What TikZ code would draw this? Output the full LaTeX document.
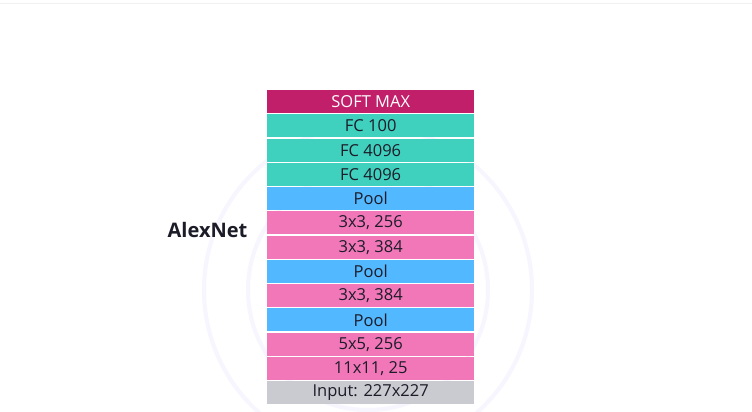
\documentclass[tikz,border=0pt]{standalone}
\usepackage{fontspec}
\setmainfont{Open Sans}
\definecolor{softc}{HTML}{C21F6B}
\definecolor{fcc}{HTML}{3FD0BE}
\definecolor{poolc}{HTML}{52B8FF}
\definecolor{convc}{HTML}{F277B9}
\definecolor{inc}{HTML}{C9CBD0}
\definecolor{ringc}{HTML}{F7F5FE}
\definecolor{txtc}{HTML}{1C1C28}
\begin{document}
\begin{tikzpicture}[x=1pt,y=-1pt,
  layer/.style={minimum width=207pt,minimum height=23pt,inner sep=0pt,anchor=north west,
    font=\fontsize{16.5}{18}\selectfont,text=txtc},
  soft/.style={layer,fill=softc,text=white},
  fc/.style={layer,fill=fcc},
  pool/.style={layer,fill=poolc},
  conv/.style={layer,fill=convc},
  inp/.style={layer,fill=inc}]
\useasboundingbox (0,0) rectangle (752,412);
\fill[white] (0,0) rectangle (752,412);
\draw[color=ringc,line width=4pt] (368,290) circle (164);
\draw[color=ringc,line width=4pt] (368,290) circle (120);
\draw[color=black!6,line width=1.5pt] (0,3.5) -- (752,3.5);
\node[soft] (s) at (267,90) {SOFT MAX};
\node[fc] (f1) at (267,114.25) {FC 100};
\node[fc] (f2) at (267,138.5) {FC 4096};
\node[fc] (f3) at (267,162.75) {FC 4096};
\node[pool] (p1) at (267,187) {Pool};
\node[conv] (c1) at (267,211.25) {3x3, 256};
\node[conv] (c2) at (267,235.5) {3x3, 384};
\node[pool] (p2) at (267,259.75) {Pool};
\node[conv] (c3) at (267,284) {3x3, 384};
\node[pool] (p3) at (267,308.25) {Pool};
\node[conv] (c4) at (267,332.5) {5x5, 256};
\node[conv] (c5) at (267,356.75) {11x11, 25};
\node[inp] (in) at (267,381) {Input: 227x227};
\node[font=\fontsize{20}{24}\selectfont\bfseries,text=txtc] (title) at (207.5,230) {AlexNet};
\end{tikzpicture}
\end{document}
